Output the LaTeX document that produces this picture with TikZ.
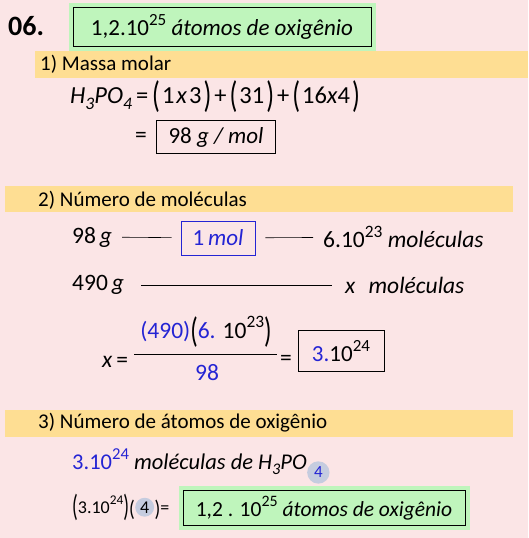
\documentclass[tikz,border=0pt]{standalone}
\usepackage{fontspec}
\setmainfont{Carlito}
\usetikzlibrary{positioning}

\definecolor{bgpink}{HTML}{FBE5E6}
\definecolor{bandyellow}{HTML}{FEDE93}
\definecolor{okgreen}{HTML}{BFF5BC}
\definecolor{inkblue}{HTML}{2424D4}
\definecolor{ringgrey}{HTML}{C5CCDF}

\newcommand\up[1]{\raisebox{.45em}{\upshape\scalebox{.74}{#1}}}
\newcommand\dn[1]{\raisebox{-.22em}{\scalebox{.72}{#1}}}
\newcommand\lp[1][1.5]{\raisebox{-.17em}{\upshape\scalebox{1.05}[#1]{(}}}
\newcommand\rp[1][1.5]{\raisebox{-.17em}{\upshape\scalebox{1.05}[#1]{)}}}
\newcommand\bigp[1]{\lp\kern2pt#1\kern2pt\rp}
\newcommand\blue[1]{\textcolor{inkblue}{#1}}

\tikzset{
  head/.style={anchor=west, inner sep=0pt, font=\fontsize{21}{23}\selectfont},
  eq/.style={anchor=west, inner sep=0pt, font=\fontsize{23.5}{25}\selectfont},
  box/.style={draw=black, thick, inner sep=6pt, font=\fontsize{23}{25}\selectfont},
  answer/.style={box, fill=okgreen, preaction={draw=okgreen, line width=9pt}},
  dashline/.style={draw=black, line width=0.6pt},
  ring/.style={circle, fill=ringgrey, inner sep=2pt}
}

\begin{document}
\begin{tikzpicture}[x=1pt, y=-1pt]
\fill[bgpink] (0,0) rectangle (528,538);
\useasboundingbox (0,0) rectangle (528,538);

% header
\node[anchor=west, inner sep=0pt, font=\bfseries\fontsize{28}{30}\selectfont] (item) at (8,26) {06.};
\node[answer, font=\fontsize{23}{25}\selectfont, minimum width=298pt, minimum height=39pt] (final1) at (222,27)
  {1,2.10\up{25} \textit{átomos de oxigênio}};

% part 1
\fill[bandyellow] (35,51) rectangle (528,78);
\node[head] (h1) at (40,64) {1) Massa molar};
\node[eq, font=\fontsize{24.5}{26}\selectfont] (mm) at (70,97)
  {\textit{H\dn{3}PO\dn{4}}\kern4pt=\kern4pt\bigp{1\kern2pt\textit{x}\kern2pt3}\kern3pt+\kern3pt\bigp{31}\kern3pt+\kern3pt\bigp{16\textit{x}4}};
\node[eq] (eqs) at (135,137) {=};
\node[box, minimum width=119pt, minimum height=33pt] (molar) at (216,137) {98 \textit{g / mol}};

% part 2
\fill[bandyellow] (5,186) rectangle (513,212);
\node[head] (h2) at (38,200) {2) Número de moléculas};
\node[eq] (g98) at (72,237) {98\,\textit{g}};
\node[box, draw=inkblue, minimum width=74pt, minimum height=34pt] (mol1) at (218,238) {\blue{1\,\textit{mol}}};
\node[eq] (avog) at (323,237) {6.10\up{23} \textit{moléculas}};
\node[eq] (g490) at (72,285) {490\,\textit{g}};
\node[eq] (xmol) at (345,285) {\textit{x}\,\, \textit{moléculas}};
\draw[dashline, shorten <=10pt, shorten >=9pt] (g98) -- (mol1);
\draw[dashline, shorten <=10pt, shorten >=10pt] (mol1) -- (avog);
\draw[dashline, shorten <=17pt, shorten >=13pt] (g490) -- (xmol);

\node[eq] (xeq) at (102,362) {\textit{x}\,=};
\node[eq, anchor=center] (numer) at (206,332)
  {\blue{(490)}\lp\blue{6.} 10\up{23}\rp};
\node[eq, anchor=center] (denom) at (207,373) {\blue{98}};
\coordinate (barL) at (134,354);
\coordinate (barR) at (277,354);
\draw[line width=0.6pt] (barL) -- (barR);
\node[eq] (eqx) at (280,360) {=};
\node[box, minimum width=86pt, minimum height=41pt] (res2) at (341,351) {\blue{3.}10\up{24}};

% part 3
\fill[bandyellow] (5,410) rectangle (513,437);
\node[head] (h3) at (38,423) {3) Número de átomos de oxigênio};
\node[eq, font=\fontsize{22.5}{24}\selectfont] (mols) at (72,462)
  {\blue{3.10}\up{\blue{24}} \textit{moléculas de H\dn{3}PO}};
\node[ring, inner sep=3pt, font=\fontsize{17}{17}\selectfont, base right=0pt of mols, yshift=-8pt] (four1) {\blue{4}};

\node[anchor=base west, inner sep=0pt, font=\fontsize{18}{20}\selectfont] (prodA) at (72,513)
  {\lp[1.7]3.10\up{24}\rp[1.7]\lp[1.25]};
\node[ring, inner sep=1.5pt, font=\fontsize{18}{20}\selectfont, base right=0pt of prodA] (four2) {4};
\node[inner sep=0pt, font=\fontsize{18}{20}\selectfont, base right=0pt of four2] (prodB)
  {\rp[1.25]=};
\node[answer, font=\fontsize{21.5}{24}\selectfont, minimum width=282pt, minimum height=30pt] (final2) at (324,508)
  {1,2 . 10\up{25} \textit{átomos de oxigênio}};
\end{tikzpicture}
\end{document}
